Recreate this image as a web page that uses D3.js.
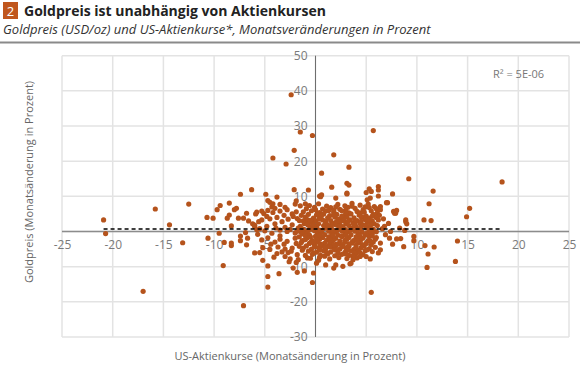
<!DOCTYPE html>
<html>
<head>
<meta charset="utf-8">
<script src="https://cdn.jsdelivr.net/npm/d3@7.9.0/dist/d3.min.js"></script>
<style>
  html, body { margin: 0; padding: 0; background: #fff; }
  svg { display: block; font-family: "Open Sans", "Noto Sans", sans-serif; }
</style>
</head>
<body>
<svg id="chart" width="580" height="370"></svg>
<script>
// ---------- data (stock change %, gold change %) ----------
const titleNum = '2';
const title = 'Goldpreis ist unabhängig von Aktienkursen';
const subtitle = 'Goldpreis (USD/oz) und US-Aktienkurse*, Monatsveränderungen in Prozent';
const xLabel = 'US-Aktienkurse (Monatsänderung in Prozent)';
const yLabel = 'Goldpreis (Monatsänderung in Prozent)';
const r2Label = 'R² = 5E-06';

const xTicks = [-25, -20, -15, -10, -5, 0, 5, 10, 15, 20, 25];
const yTicks = [-30, -20, -10, 0, 10, 20, 30, 40, 50];

// linear trend (Excel) endpoints
const trendX = [-20.9, 18.4];
const trendY = [0.7, 0.7];

const leftTail = [
  [-20.9, 3.3], [-20.7, -0.6], [-15.8, 6.4], [-14.4, 1.9], [-17.0, -17.0],
  [-12.5, 7.8], [-13.1, -3.2], [-10.7, 4.0], [-10.1, 3.8], [-10.6, -1.9],
  [-9.5, -0.5], [-9.1, -9.7], [-9.0, -3.1], [-9.7, 6.2], [-9.4, 7.4],
  [-8.5, 8.1], [-7.4, 10.6], [-6.3, 11.9], [-8.0, 6.2], [-7.8, 6.6],
  [-8.5, 4.7], [-8.7, 3.8], [-8.3, 1.6], [-7.6, 3.8], [-7.1, 3.8],
  [-6.8, 5.2], [-6.6, 3.0], [-6.9, -0.3], [-7.4, -2.6], [-6.7, -1.9],
  [-8.3, -4.0], [-6.8, -3.8], [-5.9, 5.0], [-6.0, 1.4], [-5.8, 0.5],
  [-5.6, 2.8], [-7.1, -21.1], [-8.3, -3.3], [-7.4, -1.3], [-6.2, 2.2],
  [-5.5, -6.0]
];

const upperPts = [
  [-2.4, 38.9], [-1.5, 28.3], [-0.3, 27.3], [-2.1, 23.1], [-4.2, 20.9],
  [-2.9, 19.2], [-2.1, 11.9], [-0.7, 11.8], [-4.9, 10.6], [-3.8, 9.8],
  [-4.7, 8.8], [-4.5, 8.3], [0.4, 10.1], [-4.2, 7.9], [5.7, 28.7],
  [1.8, 21.8], [3.3, 18.3], [0.6, 16.6], [9.2, 15.0], [3.1, 13.7],
  [3.3, 13.2], [1.6, 12.6], [11.6, 11.5], [3.1, 10.7], [0.6, 10.4],
  [0.5, 9.9], [2.0, 9.5], [5.3, 12.1], [5.0, 11.1], [6.2, 12.8],
  [6.2, 11.8], [5.5, 11.4], [6.2, 10.1], [5.4, 9.5], [5.1, 9.0],
  [7.6, 10.7], [7.1, 8.2], [18.4, 14.1], [3.1, 10.9], [-1.9, 8.7]
];

const rightTail = [
  [6.4, 7.1], [6.4, 6.2], [8.0, 6.0], [7.8, 5.2], [11.2, 7.9],
  [8.9, 3.3], [10.7, 3.3], [11.4, 3.1], [15.2, 6.6], [14.9, 4.2],
  [9.7, -1.4], [9.7, -2.6], [10.8, -4.0], [11.1, -6.4], [11.0, -10.2],
  [8.7, -4.3], [8.9, 2.8], [8.8, 0.3], [8.4, -2.0], [8.0, -2.1],
  [8.3, 1.0], [7.7, 5.7], [7.9, 5.2], [7.3, -1.9], [7.4, 0.0],
  [6.4, -3.3], [6.4, -5.2], [6.2, -6.1], [13.8, -8.5], [14.0, -2.7],
  [11.7, -4.4], [9.0, 2.2], [7.0, 8.2], [6.8, 1.5], [7.2, 2.3],
  [6.6, 0.8], [6.9, -0.9], [7.6, -3.6], [6.7, 3.6]
];

const lowerPts = [
  [5.5, -17.3], [-4.7, -15.8], [-4.7, -12.8], [-3.6, -12.0], [-5.2, -8.2],
  [-2.6, -8.6], [-2.2, -10.4], [-1.9, -8.8], [-0.2, -11.8], [-0.3, -14.5],
  [-1.8, -11.6], [-1.1, -11.2], [-4.7, -9.8], [1.0, -9.5], [2.0, -9.5],
  [2.7, -9.9], [3.4, -9.2], [3.7, -8.0], [1.8, -10.4], [5.4, -7.8],
  [5.0, -7.1], [4.4, -7.1], [3.5, -9.0], [0.1, -9.0], [0.3, -8.2]
];

const midLeft = [
  [-5.8, 5.5], [-5.3, 5.8], [-5.1, 5.1], [-4.7, 6.0], [-4.2, 5.4], [-3.5, 5.8], [-2.8, 6.2], [-2.3, 5.0],
  [-5.3, 3.3], [-4.5, 3.6], [-3.8, 4.0], [-3.3, 2.8], [-2.7, 3.5], [-1.8, 3.7], [-1.2, 3.0],
  [-6.0, 1.8], [-5.5, 0.8], [-4.8, 1.5], [-4.0, 2.2], [-3.5, 0.4], [-3.0, 1.2], [-2.3, 1.9], [-1.7, 1.0],
  [-5.7, -0.8], [-5.0, 0.2], [-4.3, -0.5], [-3.5, -1.2], [-2.8, 0.0], [-2.0, -0.4],
  [-5.3, -2.4], [-4.7, -1.8], [-4.0, -3.0], [-3.5, -2.2], [-2.8, -2.8], [-2.0, -1.9], [-1.3, -2.6], [-0.5, -1.5],
  [-5.2, -4.6], [-4.5, -5.1], [-3.7, -4.4], [-3.0, -5.0], [-2.3, -4.7], [-1.3, -5.3],
  [-6.0, -6.1], [-3.8, -6.3], [-3.3, -5.8], [-2.7, -6.0], [-1.8, -6.6], [-1.0, -6.8],
  [-2.5, -7.8], [-1.7, -8.0], [-0.8, -7.5],
  [-4.3, 7.0], [-3.5, 7.7], [-3.0, 6.9], [-2.0, 7.8], [-1.5, 7.3], [-1.0, 7.9],
  [-4.0, 6.6], [-3.1, 4.6], [-2.2, 4.3], [-1.9, 5.6], [-4.8, 4.3], [-3.9, 1.0], [-2.5, 0.6],
  [-1.4, -0.2], [-3.1, -3.6], [-1.9, -3.4], [-4.4, -3.6], [-2.4, -5.6], [-1.6, -4.2],
  [-4.1, -7.3], [-3.0, -7.1]
];

const core = [
  [-0.6, 7.4], [0.3, 7.9], [1.1, 7.2], [2.2, 7.7], [2.9, 7.3], [3.6, 8.0], [4.4, 7.5], [5.2, 7.8], [5.8, 7.1],
  [-0.9, 6.5], [-0.1, 6.9], [0.7, 6.4], [1.5, 6.8], [2.4, 6.3], [3.2, 6.9], [3.9, 6.6], [4.7, 6.2], [5.3, 6.8], [6.0, 6.5],
  [-1.2, 5.6], [-0.4, 5.9], [0.4, 5.4], [1.0, 5.8], [1.8, 5.5], [2.6, 5.9], [3.3, 5.3], [4.1, 5.7], [4.8, 5.5], [5.5, 5.9], [6.1, 5.3],
  [-1.4, 4.6], [-0.7, 4.9], [0.1, 4.7], [0.8, 5.0], [1.4, 4.5], [2.1, 4.9], [2.9, 4.6], [3.5, 5.0], [4.3, 4.7], [5.0, 4.4], [5.7, 4.9], [6.3, 4.6],
  [-1.0, 4.1], [-0.2, 3.8], [0.5, 4.2], [1.2, 3.9], [1.9, 4.1], [2.5, 3.7], [3.1, 4.2], [3.8, 3.9], [4.6, 4.1], [5.3, 3.8], [6.0, 4.0],
  [-1.6, 3.1], [-0.8, 3.4], [0.0, 3.0], [0.7, 3.3], [1.5, 3.1], [2.2, 3.5], [2.8, 3.0], [3.4, 3.3], [4.1, 3.1], [4.9, 3.4], [5.6, 3.0], [6.2, 3.3],
  [-1.1, 2.3], [-0.4, 2.6], [0.3, 2.2], [1.0, 2.5], [1.7, 2.3], [2.4, 2.7], [3.0, 2.2], [3.7, 2.5], [4.4, 2.3], [5.1, 2.6], [5.8, 2.2],
  [-1.5, 1.5], [-0.7, 1.8], [0.1, 1.4], [0.8, 1.7], [1.4, 1.5], [2.0, 1.9], [2.7, 1.4], [3.3, 1.7], [4.0, 1.5], [4.7, 1.8], [5.4, 1.4], [6.1, 1.7],
  [-1.2, 0.7], [-0.5, 1.0], [0.2, 0.6], [0.9, 0.9], [1.6, 0.7], [2.3, 1.0], [2.9, 0.6], [3.6, 0.9], [4.3, 0.7], [5.0, 1.0], [5.7, 0.6],
  [-1.8, 0.1], [-0.9, -0.2], [-0.1, 0.2], [0.6, -0.1], [1.3, 0.1], [1.9, -0.2], [2.6, 0.2], [3.2, -0.1], [3.9, 0.1], [4.6, -0.2], [5.3, 0.2], [6.0, -0.1],
  [-1.3, -0.7], [-0.6, -1.0], [0.2, -0.6], [0.9, -0.9], [1.6, -0.7], [2.2, -1.0], [2.9, -0.6], [3.5, -0.9], [4.2, -0.7], [4.9, -1.0], [5.6, -0.6],
  [-1.6, -1.5], [-0.8, -1.8], [0.0, -1.4], [0.7, -1.7], [1.3, -1.5], [2.0, -1.9], [2.6, -1.4], [3.3, -1.7], [4.0, -1.5], [4.7, -1.8], [5.3, -1.4], [6.0, -1.7],
  [-1.0, -2.3], [-0.3, -2.6], [0.4, -2.2], [1.1, -2.5], [1.8, -2.3], [2.4, -2.7], [3.1, -2.2], [3.8, -2.5], [4.5, -2.3], [5.2, -2.6], [5.9, -2.2],
  [-1.4, -3.1], [-0.6, -3.4], [0.2, -3.0], [0.9, -3.3], [1.6, -3.1], [2.3, -3.5], [2.9, -3.0], [3.6, -3.3], [4.3, -3.1], [5.0, -3.4], [5.7, -3.0],
  [-0.9, -4.1], [-0.1, -3.8], [0.6, -4.2], [1.3, -3.9], [2.0, -4.1], [2.7, -3.7], [3.3, -4.2], [4.0, -3.9], [4.8, -4.1], [5.5, -3.8],
  [-1.2, -4.7], [-0.4, -5.0], [0.3, -4.6], [1.0, -4.9], [1.7, -4.5], [2.4, -5.0], [3.0, -4.7], [3.8, -5.1], [4.5, -4.6], [5.3, -4.9], [5.9, -4.5],
  [-0.7, -5.6], [0.1, -5.9], [0.8, -5.5], [1.5, -5.8], [2.2, -5.4], [2.9, -5.9], [3.5, -5.5], [4.2, -5.8], [4.9, -5.4], [5.6, -5.7],
  [-0.3, -6.5], [0.5, -6.8], [1.2, -6.4], [1.9, -6.9], [2.6, -6.5], [3.3, -6.8], [4.0, -6.3], [4.7, -6.6],
  [-0.5, -7.6], [0.4, -7.3], [1.4, -7.8], [2.3, -7.4], [3.1, -7.7], [4.1, -7.5],
  [0.35, 3.6], [1.65, 2.0], [2.75, 3.9], [3.95, 2.8], [0.45, -0.4], [1.05, 1.2], [2.15, 0.3], [3.45, 0.4],
  [4.45, 1.1], [0.15, -2.0], [1.45, -2.9], [2.55, -1.2], [3.65, -2.9], [4.35, -1.2], [0.95, -4.4], [2.05, -3.6],
  [3.15, -4.4], [4.2, -5.3], [-0.25, 0.6], [-0.45, -3.0], [5.05, -0.5], [5.45, 2.1], [1.8, 6.0], [3.0, 6.1],
  [4.4, 5.3], [0.2, 5.2], [-0.8, 2.1], [2.6, 4.4], [1.1, -6.0], [3.8, -6.1],
  [0.0, 6.2], [1.3, 6.0], [2.0, 7.0], [3.6, 7.2], [4.9, 7.0], [0.6, 4.6], [1.8, 4.8], [3.0, 5.3], [4.5, 4.2], [5.6, 4.4],
  [-0.5, 3.2], [1.0, 2.9], [2.0, 2.6], [3.2, 2.9], [4.5, 2.9], [5.3, 3.2], [-0.2, 1.8], [1.2, 1.9], [2.4, 1.6], [3.8, 1.9],
  [5.0, 1.7], [-0.7, 0.3], [0.5, 0.3], [1.7, 0.4], [3.0, 0.3], [4.1, 0.5], [5.5, -0.2], [-1.0, -1.2], [0.4, -1.1], [1.7, -1.2],
  [3.0, -1.1], [4.4, -1.9], [5.6, -1.3], [-0.2, -2.9], [1.4, -2.0], [2.9, -2.5], [4.1, -2.6], [5.4, -2.7], [0.5, -3.6], [1.8, -3.8],
  [3.3, -3.5], [4.6, -3.7], [-0.1, -4.4], [1.4, -4.3], [2.6, -4.3], [4.0, -4.5], [5.1, -5.2], [0.4, -5.3], [1.9, -5.2], [3.2, -5.3],
  [-0.2, -6.1], [2.2, -6.2], [3.0, -6.4], [4.4, -6.0], [0.9, -7.0], [3.7, -7.0]
];

const points = [...leftTail, ...midLeft, ...core, ...upperPts, ...rightTail, ...lowerPts];

// ---------- layout ----------
const svg = d3.select('#chart');
const plot = { left: 62, right: 569, top: 55.7, bottom: 337 };

const x = d3.scaleLinear().domain([-25, 25]).range([plot.left, plot.right]);
const y = d3.scaleLinear().domain([-30, 50]).range([plot.bottom, plot.top]);

// header
svg.append('rect').attr('x', 3).attr('y', 2).attr('width', 15).attr('height', 17).attr('fill', '#c0561d');
svg.append('text').attr('x', 10.5).attr('y', 15.5).attr('text-anchor', 'middle')
  .attr('fill', '#fff').style('font-size', '13px').text(titleNum);
svg.append('text').attr('x', 24).attr('y', 15.5).attr('fill', '#222')
  .style('font-size', '14px').style('font-weight', 'bold').text(title);
svg.append('text').attr('x', 3).attr('y', 34).attr('fill', '#333')
  .style('font-size', '13px').style('font-style', 'italic').text(subtitle);
svg.append('line').attr('x1', 0).attr('x2', 580).attr('y1', 42.5).attr('y2', 42.5)
  .attr('stroke', '#8a8a8a').attr('stroke-width', 2);

// gridlines
const grid = svg.append('g').attr('stroke', '#e3e3e3').attr('stroke-width', 1.5);
grid.selectAll('.gx').data(xTicks).join('line')
  .attr('x1', d => x(d)).attr('x2', d => x(d)).attr('y1', plot.top).attr('y2', plot.bottom);
grid.selectAll('.gy').data(yTicks).join('line')
  .attr('y1', d => y(d)).attr('y2', d => y(d)).attr('x1', plot.left).attr('x2', plot.right);

// zero axes
svg.append('line').attr('x1', x(-25)).attr('x2', x(25)).attr('y1', y(0)).attr('y2', y(0))
  .attr('stroke', '#8c8c8c').attr('stroke-width', 1.5);
svg.append('line').attr('x1', x(0)).attr('x2', x(0)).attr('y1', y(-30)).attr('y2', y(50))
  .attr('stroke', '#6e6e6e').attr('stroke-width', 1);

// tick labels
const xAxis = svg.append('g').attr('transform', `translate(0,${y(0)})`)
  .call(d3.axisBottom(x).tickValues(xTicks).tickSize(0).tickPadding(9));
const yAxis = svg.append('g').attr('transform', `translate(${x(0) - 2},0)`)
  .call(d3.axisLeft(y).tickValues(yTicks).tickSize(0).tickPadding(6));
[xAxis, yAxis].forEach(g => {
  g.select('.domain').remove();
  g.selectAll('text').attr('fill', '#7a7a7a')
    .style('font-size', '12px').style('font-family', '"Open Sans", sans-serif');
});
// plain hyphen-minus like the original
xAxis.selectAll('text').text(d => String(d));
yAxis.selectAll('text').text(d => String(d));

// axis titles
svg.append('text').attr('x', 290).attr('y', 360).attr('text-anchor', 'middle')
  .attr('fill', '#666').style('font-size', '11px').text(xLabel);
svg.append('text').attr('transform', 'translate(33,182) rotate(-90)').attr('text-anchor', 'middle')
  .attr('fill', '#666').style('font-size', '11px').text(yLabel);

// dots
svg.append('g').selectAll('circle').data(points).join('circle')
  .attr('cx', d => x(d[0])).attr('cy', d => y(d[1])).attr('r', 2.6)
  .attr('fill', '#b5531c');

// trend line
svg.append('line')
  .attr('x1', x(trendX[0])).attr('x2', x(trendX[1]))
  .attr('y1', y(trendY[0])).attr('y2', y(trendY[1]))
  .attr('stroke', '#000').attr('stroke-width', 1.5).attr('stroke-dasharray', '4,3');

// R² label
svg.append('text').attr('x', 493).attr('y', 78).attr('fill', '#777')
  .style('font-size', '11px').text(r2Label);
</script>
</body>
</html>
